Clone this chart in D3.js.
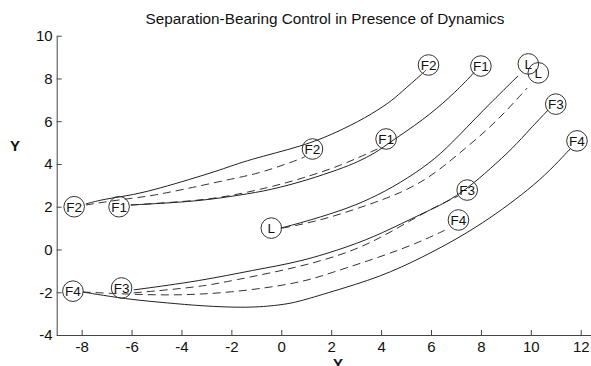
<!DOCTYPE html>
<html>
<head>
<meta charset="utf-8">
<script src="https://cdn.jsdelivr.net/npm/d3@7"></script>
<style>
  body { margin: 0; background: #fff; }
  text { font-family: "Liberation Sans", Arial, sans-serif; fill: #111; }
</style>
</head>
<body>
<div id="chart"></div>
<script>
// tick labels
var xTicks = [-8, -6, -4, -2, 0, 2, 4, 6, 8, 10, 12];
var yTicks = [-4, -2, 0, 2, 4, 6, 8, 10];

// solid trajectories (start -> final position)
var solidF2 = [[-7.83, 2.13], [-7.11, 2.36], [-5.91, 2.55], [-4.83, 2.88], [-3.75, 3.25], [-2.43, 3.72],
  [-1.35, 4.19], [0.89, 4.84], [2.17, 5.45], [3.37, 6.15], [4.37, 6.90], [4.77, 7.32], [5.69, 8.26], [5.81, 8.40]];
var solidF1 = [[-6.03, 2.08], [-5.23, 2.13], [-3.23, 2.27], [-1.63, 2.55], [-0.43, 2.78], [1.05, 3.25],
  [2.37, 3.77], [3.05, 4.09], [3.77, 4.51], [4.37, 5.03], [5.69, 6.06], [6.77, 7.13], [7.57, 8.07], [7.73, 8.30]];
var solidL = [[-0.03, 1.00], [0.77, 1.24], [2.37, 1.80], [3.57, 2.36], [4.77, 3.11], [5.97, 4.05],
  [6.77, 4.89], [8.09, 6.52], [9.49, 8.12]];
var solidF3 = [[-5.91, -1.89], [-3.23, -1.47], [-1.11, -0.96], [0.77, -0.58], [2.77, 0.16], [3.97, 0.72],
  [5.69, 1.71], [6.57, 2.17], [7.49, 2.88], [8.37, 3.77], [9.29, 4.75], [9.97, 5.64], [10.69, 6.52]];
var solidF4 = [[-7.95, -1.99], [-7.23, -2.13], [-5.91, -2.36], [-4.55, -2.50], [-3.23, -2.64], [-1.35, -2.74],
  [-0.03, -2.60], [0.65, -2.46], [1.97, -1.99], [3.97, -1.29], [5.69, -0.35], [7.17, 0.58], [8.37, 1.47],
  [9.37, 2.32], [10.37, 3.25], [11.17, 4.19], [11.57, 4.70]];

// dashed trajectories
var dashF2 = [[-7.83, 2.08], [-7.11, 2.22], [-5.91, 2.41], [-5.23, 2.50], [-3.63, 2.88], [-1.63, 3.39],
  [-0.83, 3.58], [0.89, 4.28], [0.97, 4.37]];
var dashF1 = [[-6.03, 2.08], [-4.83, 2.17], [-2.55, 2.36], [-0.43, 2.92], [0.77, 3.30], [2.37, 3.91], [3.85, 4.70]];
var dashL = [[0.05, 1.00], [1.69, 1.38], [3.69, 2.17], [4.77, 2.64], [5.77, 3.25], [6.57, 3.95], [7.29, 4.65],
  [8.25, 5.59], [9.05, 6.52], [9.85, 7.55]];
var dashF3 = [[-5.91, -2.03], [-3.23, -1.75], [-2.03, -1.47], [0.77, -0.82], [2.77, -0.12], [3.97, 0.54],
  [5.29, 1.43], [6.25, 2.04], [7.09, 2.50]];
var dashF4 = [[-7.95, -1.99], [-7.23, -2.03], [-4.55, -2.17], [-2.03, -2.03], [0.77, -1.57], [1.97, -1.10],
  [3.97, -0.35], [5.57, 0.35], [6.73, 1.00]];

// circled labels
var markerLabels = ["F2", "F1", "L", "F4", "F3", "F2", "F1", "F3", "F4", "F2", "F1", "L", "L", "F3", "F4"];
var markerX = [-8.3, -6.5, -0.4, -8.35, -6.4, 1.25, 4.2, 7.45, 7.1, 5.9, 8.0, 9.9, 10.3, 11.0, 11.85];
var markerY = [2.0, 2.0, 1.0, -1.95, -1.8, 4.7, 5.17, 2.78, 1.38, 8.63, 8.58, 8.68, 8.26, 6.8, 5.08];

var W = 591, H = 366;
var svg = d3.select("#chart").append("svg")
    .attr("width", W)
    .attr("height", H);

var x = d3.scaleLinear().domain([-9, 12.5]).range([56.7, 593.2]);
var y = d3.scaleLinear().domain([-4, 10]).range([335, 35.7]);

// title
svg.append("text")
    .attr("x", 325)
    .attr("y", 24)
    .attr("text-anchor", "middle")
    .style("font-size", "15.3px")
    .text("Separation-Bearing Control in Presence of Dynamics");

// axes
var xAxis = svg.append("g")
    .attr("transform", "translate(0," + y(-4) + ")")
    .call(d3.axisBottom(x).tickValues(xTicks).tickSizeInner(-5).tickSizeOuter(0).tickPadding(6)
      .tickFormat(function(d) { return String(d); }));
var yAxis = svg.append("g")
    .attr("transform", "translate(" + x(-9) + ",0)")
    .call(d3.axisLeft(y).tickValues(yTicks).tickSizeInner(-5).tickSizeOuter(0).tickPadding(4)
      .tickFormat(function(d) { return String(d); }));

[xAxis, yAxis].forEach(function(g) {
  g.select(".domain").attr("stroke", "#444");
  g.selectAll(".tick line").attr("stroke", "#444");
  g.selectAll(".tick text").style("font-size", "15px").attr("fill", "#111")
    .style("font-family", "'Liberation Sans', Arial, sans-serif");
});

// axis labels (the x label is cut by the bottom edge, as in the original)
svg.append("text")
    .attr("x", 15)
    .attr("y", 151)
    .attr("text-anchor", "middle")
    .style("font-size", "15px")
    .style("font-weight", "bold")
    .text("Y");
svg.append("text")
    .attr("x", 338)
    .attr("y", 369)
    .attr("text-anchor", "middle")
    .style("font-size", "15px")
    .style("font-weight", "bold")
    .text("Y");

var line = d3.line()
    .x(function(d) { return x(d[0]); })
    .y(function(d) { return y(d[1]); })
    .curve(d3.curveBasis);

// draw the dashed paths
[dashF2, dashF1, dashL, dashF3, dashF4].forEach(function(d) {
  svg.append("path")
      .datum(d)
      .attr("fill", "none")
      .attr("stroke", "#333")
      .attr("stroke-width", 1)
      .attr("stroke-dasharray", "8,5")
      .attr("d", line);
});

// draw the solid paths
[solidF2, solidF1, solidL, solidF3, solidF4].forEach(function(d) {
  svg.append("path")
      .datum(d)
      .attr("fill", "none")
      .attr("stroke", "#222")
      .attr("stroke-width", 1)
      .attr("d", line);
});

// circled labels
var markers = svg.selectAll(".marker")
    .data(markerLabels)
    .enter().append("g")
    .attr("class", "marker")
    .attr("transform", function(d, i) {
      return "translate(" + x(markerX[i]) + "," + y(markerY[i]) + ")";
    });
markers.append("circle")
    .attr("r", 10.3)
    .attr("fill", "none")
    .attr("stroke", "#333")
    .attr("stroke-width", 1);
markers.append("text")
    .attr("text-anchor", "middle")
    .attr("dy", "0.36em")
    .style("font-size", "13.5px")
    .text(function(d) { return d; });
</script>
</body>
</html>
